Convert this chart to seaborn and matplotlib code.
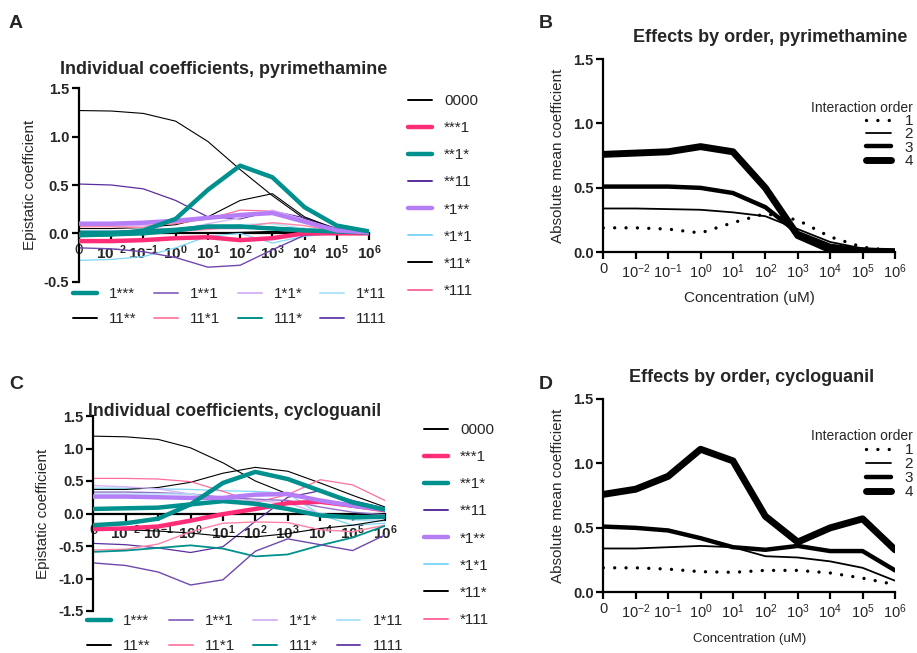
import numpy as np
import pandas as pd
import matplotlib
matplotlib.use("Agg")
import matplotlib.pyplot as plt
import seaborn as sns
from matplotlib.lines import Line2D

sns.set_theme(style="ticks")
plt.rcParams["font.family"] = ["Liberation Sans", "DejaVu Sans"]
plt.rcParams["mathtext.fontset"] = "custom"
plt.rcParams["mathtext.rm"] = "Liberation Sans"
plt.rcParams["mathtext.bf"] = "Liberation Sans:bold"
plt.rcParams["axes.unicode_minus"] = False

# ---------------- data ----------------
concentrations = ["0", "-2", "-1", "0", "1", "2", "3", "4", "5", "6"]  # exponents (first is plain 0)

coef_names = ["0000", "***1", "**1*", "**11", "*1**", "*1*1", "*11*", "*111",
              "1***", "1**1", "1*1*", "1*11", "11**", "11*1", "111*", "1111"]

pyr_0000 = [1.27, 1.265, 1.24, 1.16, 0.95, 0.66, 0.39, 0.15, 0.04, 0.01]
pyr_xxx1 = [-0.08, -0.08, -0.07, -0.05, -0.04, -0.07, -0.05, 0.0, 0.0, 0.0]
pyr_xx1x = [-0.01, -0.01, 0.0, 0.03, 0.07, 0.07, 0.05, 0.03, 0.02, 0.01]
pyr_xx11 = [0.51, 0.50, 0.46, 0.34, 0.17, 0.15, 0.23, 0.16, 0.05, 0.01]
pyr_x1xx = [0.10, 0.10, 0.11, 0.13, 0.16, 0.19, 0.21, 0.12, 0.03, 0.01]
pyr_x1x1 = [-0.28, -0.27, -0.24, -0.15, -0.03, 0.0, -0.10, -0.03, 0.0, 0.0]
pyr_x11x = [0.05, 0.05, 0.06, 0.09, 0.17, 0.34, 0.41, 0.17, 0.04, 0.01]
pyr_x111 = [0.08, 0.08, 0.08, 0.10, 0.15, 0.24, 0.23, 0.14, 0.04, 0.01]
pyr_1xxx = [-0.02, -0.01, 0.03, 0.15, 0.45, 0.70, 0.58, 0.27, 0.08, 0.02]
pyr_1xx1 = [0.02, 0.02, 0.03, 0.02, 0.05, 0.05, 0.06, 0.05, 0.02, 0.0]
pyr_1x1x = [0.07, 0.08, 0.08, 0.03, 0.10, 0.16, 0.24, 0.14, 0.03, 0.01]
pyr_1x11 = [0.0, 0.0, 0.02, 0.05, 0.06, 0.09, 0.10, 0.05, 0.02, 0.0]
pyr_11xx = [0.0, 0.0, 0.01, 0.01, 0.0, 0.01, 0.02, 0.01, 0.0, 0.0]
pyr_11x1 = [0.07, 0.07, 0.06, 0.02, 0.04, 0.07, 0.11, 0.08, 0.02, 0.0]
pyr_111x = [0.02, 0.02, 0.03, 0.05, 0.08, 0.08, 0.06, 0.04, 0.02, 0.01]
pyr_1111 = [-0.15, -0.16, -0.19, -0.25, -0.35, -0.33, -0.17, -0.02, 0.0, 0.0]

cyc_0000 = [1.19, 1.18, 1.14, 1.01, 0.78, 0.50, 0.30, 0.18, 0.10, 0.05]
cyc_xxx1 = [-0.24, -0.23, -0.20, -0.11, -0.01, 0.07, 0.16, 0.18, 0.12, 0.05]
cyc_xx1x = [0.07, 0.08, 0.09, 0.14, 0.19, 0.15, 0.07, -0.03, -0.06, -0.05]
cyc_xx11 = [-0.46, -0.48, -0.53, -0.60, -0.51, -0.12, 0.25, 0.35, 0.20, 0.08]
cyc_x1xx = [0.26, 0.26, 0.25, 0.24, 0.24, 0.29, 0.30, 0.20, 0.12, 0.06]
cyc_x1x1 = [0.39, 0.39, 0.38, 0.37, 0.35, 0.34, 0.31, -0.02, -0.18, -0.15]
cyc_x11x = [0.37, 0.37, 0.40, 0.48, 0.62, 0.71, 0.65, 0.47, 0.28, 0.10]
cyc_x111 = [0.54, 0.54, 0.53, 0.49, 0.34, 0.17, 0.29, 0.52, 0.44, 0.20]
cyc_1xxx = [-0.18, -0.15, -0.08, 0.14, 0.47, 0.64, 0.53, 0.35, 0.17, 0.06]
cyc_1xx1 = [0.33, 0.33, 0.32, 0.30, 0.25, 0.22, 0.20, 0.10, 0.02, -0.02]
cyc_1x1x = [0.43, 0.41, 0.38, 0.30, 0.22, 0.20, 0.16, 0.0, -0.07, -0.08]
cyc_1x11 = [0.30, 0.30, 0.30, 0.30, 0.20, 0.12, 0.05, 0.0, -0.10, -0.12]
cyc_11xx = [-0.25, -0.25, -0.27, -0.30, -0.35, -0.36, -0.31, -0.23, -0.18, -0.10]
cyc_11x1 = [-0.56, -0.55, -0.47, -0.28, -0.15, -0.13, -0.14, -0.25, -0.28, -0.18]
cyc_111x = [-0.59, -0.57, -0.53, -0.49, -0.54, -0.66, -0.63, -0.49, -0.37, -0.19]
cyc_1111 = [-0.76, -0.80, -0.90, -1.10, -1.02, -0.58, -0.39, -0.48, -0.57, -0.33]

pyr_order1 = [0.19, 0.19, 0.18, 0.15, 0.23, 0.30, 0.25, 0.12, 0.04, 0.01]
pyr_order2 = [0.34, 0.34, 0.335, 0.33, 0.31, 0.28, 0.18, 0.08, 0.03, 0.01]
pyr_order3 = [0.51, 0.51, 0.51, 0.50, 0.46, 0.35, 0.15, 0.05, 0.02, 0.01]
pyr_order4 = [0.76, 0.77, 0.78, 0.82, 0.78, 0.50, 0.13, 0.02, 0.01, 0.005]

cyc_order1 = [0.19, 0.19, 0.18, 0.16, 0.155, 0.17, 0.17, 0.15, 0.11, 0.06]
cyc_order2 = [0.34, 0.34, 0.35, 0.36, 0.35, 0.28, 0.27, 0.24, 0.19, 0.09]
cyc_order3 = [0.51, 0.50, 0.48, 0.42, 0.35, 0.33, 0.36, 0.32, 0.32, 0.17]
cyc_order4 = [0.76, 0.80, 0.90, 1.11, 1.02, 0.59, 0.39, 0.50, 0.57, 0.33]

order_labels = ["1", "2", "3", "4"]

pyr_coefs = [pyr_0000, pyr_xxx1, pyr_xx1x, pyr_xx11, pyr_x1xx, pyr_x1x1, pyr_x11x, pyr_x111,
             pyr_1xxx, pyr_1xx1, pyr_1x1x, pyr_1x11, pyr_11xx, pyr_11x1, pyr_111x, pyr_1111]
cyc_coefs = [cyc_0000, cyc_xxx1, cyc_xx1x, cyc_xx11, cyc_x1xx, cyc_x1x1, cyc_x11x, cyc_x111,
             cyc_1xxx, cyc_1xx1, cyc_1x1x, cyc_1x11, cyc_11xx, cyc_11x1, cyc_111x, cyc_1111]

# ---------------- styles ----------------
TEAL = "#00908D"
PINK = "#FF2D78"
styles = {
    "0000": ("black", 0.8), "***1": (PINK, 3.2), "**1*": (TEAL, 3.2), "**11": ("#5A2D9C", 0.9),
    "*1**": ("#B57EF7", 3.2), "*1*1": ("#7FD6F7", 0.9), "*11*": ("black", 0.8), "*111": ("#FF6E9A", 0.9),
    "1***": (TEAL, 3.2), "1**1": ("#9272C8", 1.0), "1*1*": ("#D6B6F8", 1.0), "1*11": ("#AEE4F8", 1.0),
    "11**": ("black", 0.8), "11*1": ("#FF84A8", 1.0), "111*": (TEAL, 1.3), "1111": ("#6E48AE", 1.0),
}

x = np.arange(len(concentrations))


def tick_labels(bold):
    out = []
    for i, e in enumerate(concentrations):
        if i == 0:
            out.append("0")
        elif bold:
            out.append(r"$\mathbf{10^{%s}}$" % e)
        else:
            out.append(r"$\mathregular{10^{%s}}$" % e)
    return out


W, H = 917, 653
fig = plt.figure(figsize=(W / 100, H / 100), dpi=100)


def rect(l, r, t, b):
    return [l / W, 1 - b / H, (r - l) / W, (b - t) / H]


def coef_panel(axrect, series, ylim, yticks, ylabel_x):
    ax = fig.add_axes(axrect)
    for name, vals in zip(coef_names, series):
        c, lw = styles[name]
        df = pd.DataFrame({"x": x, "y": vals})
        sns.lineplot(data=df, x="x", y="y", ax=ax, color=c, linewidth=lw,
                     legend=False, zorder=3 if lw > 2 else 2)
    ax.set_xlim(0, 9)
    ax.set_ylim(*ylim)
    ax.set_yticks(yticks)
    ax.set_yticklabels(["%.1f" % v for v in yticks], fontweight="bold", fontsize=10.5)
    ax.set_xticks(x)
    ax.set_xticklabels(tick_labels(True), fontweight="bold", fontsize=10.5)
    ax.spines["bottom"].set_position(("data", 0))
    ax.spines["bottom"].set_zorder(1)
    for s in ["top", "right"]:
        ax.spines[s].set_visible(False)
    for s in ["left", "bottom"]:
        ax.spines[s].set_linewidth(1.6)
        ax.spines[s].set_color("black")
    ax.tick_params(axis="both", width=1.6, length=5, color="black", pad=2)
    ax.set_xlabel("")
    ax.set_ylabel("Epistatic coefficient", fontsize=11)
    ax.yaxis.set_label_coords(ylabel_x, 0.5)
    return ax


def make_handles(names):
    hs = []
    for n in names:
        c, lw = styles[n]
        hs.append(Line2D([0], [0], color=c, lw=max(lw, 1.4) if lw < 2 else lw))
    return hs


# legend grid is filled row by row (4 columns, 2 rows)
lower_names = coef_names[8:]
lower_order = [0, 4, 1, 5, 2, 6, 3, 7]
lower_names_cm = [lower_names[i] for i in lower_order]

# Panel A
axA = coef_panel(rect(79, 369, 88.3, 281.7), pyr_coefs, (-0.5, 1.5),
                 [-0.5, 0.0, 0.5, 1.0, 1.5], -0.145)
fig.legend(make_handles(coef_names[:8]), coef_names[:8], loc="upper left",
           bbox_to_anchor=(408 / W, 1 - 94 / H), frameon=False, fontsize=11,
           handlelength=1.55, handletextpad=0.8, labelspacing=0.86,
           borderpad=0, borderaxespad=0)
fig.legend(make_handles(lower_names_cm), lower_names_cm, loc="upper left",
           bbox_to_anchor=(73 / W, 1 - 287 / H), frameon=False, fontsize=11, ncol=4,
           handlelength=1.55, handletextpad=0.8, labelspacing=0.72, columnspacing=1.15,
           borderpad=0, borderaxespad=0)

# Panel C
axC = coef_panel(rect(93.3, 385, 416, 611), cyc_coefs, (-1.5, 1.5),
                 [-1.5, -1.0, -0.5, 0.0, 0.5, 1.0, 1.5], -0.148)
fig.legend(make_handles(coef_names[:8]), coef_names[:8], loc="upper left",
           bbox_to_anchor=(424 / W, 1 - 423 / H), frameon=False, fontsize=11,
           handlelength=1.55, handletextpad=0.8, labelspacing=0.86,
           borderpad=0, borderaxespad=0)
fig.legend(make_handles(lower_names_cm), lower_names_cm, loc="upper left",
           bbox_to_anchor=(87 / W, 1 - 614 / H), frameon=False, fontsize=11, ncol=4,
           handlelength=1.55, handletextpad=0.8, labelspacing=0.72, columnspacing=1.2,
           borderpad=0, borderaxespad=0)

# Order panels
order_styles = [
    dict(linestyle=(0, (0.01, 3.4)), linewidth=2.4, dash_capstyle="round"),
    dict(linestyle="-", linewidth=1.3),
    dict(linestyle="-", linewidth=3.2),
    dict(linestyle="-", linewidth=5.0),
]


def order_panel(axrect, orders, xlabel_size, leg_anchor, leg_spacing):
    ax = fig.add_axes(axrect)
    for vals, st in zip(orders, order_styles):
        df = pd.DataFrame({"x": x, "y": vals})
        sns.lineplot(data=df, x="x", y="y", ax=ax, color="black", legend=False, **st)
    ax.set_xlim(0, 9)
    ax.set_ylim(0, 1.5)
    ax.set_yticks([0, 0.5, 1.0, 1.5])
    ax.set_yticklabels(["0.0", "0.5", "1.0", "1.5"], fontweight="bold", fontsize=10.5)
    ax.set_xticks(x)
    ax.set_xticklabels(tick_labels(False), fontsize=10.5)
    for s in ["top", "right"]:
        ax.spines[s].set_visible(False)
    for s in ["left", "bottom"]:
        ax.spines[s].set_linewidth(1.6)
        ax.spines[s].set_color("black")
    ax.tick_params(axis="both", width=1.6, length=5, color="black", pad=2)
    ax.set_ylabel("Absolute mean coefficient", fontsize=11)
    ax.yaxis.set_label_coords(-0.13, 0.5)
    ax.set_xlabel("Concentration (uM)", fontsize=xlabel_size)
    handles = [Line2D([0], [0], color="black", **st) for st in order_styles]
    leg = ax.legend(handles, order_labels, title="Interaction order", loc="upper left",
                    bbox_to_anchor=leg_anchor, bbox_transform=fig.transFigure,
                    frameon=False, fontsize=11, title_fontsize=10,
                    handlelength=1.6, handletextpad=0.9, labelspacing=leg_spacing,
                    borderpad=0, borderaxespad=0)
    leg._legend_box.align = "right"
    return ax


axB = order_panel(rect(603.3, 895, 59, 252.3),
                  [pyr_order1, pyr_order2, pyr_order3, pyr_order4], 11,
                  (811 / W, 1 - 101 / H), -0.05)
axB.xaxis.set_label_coords(0.5, -0.2)
axD = order_panel(rect(603.3, 895, 399, 592.3),
                  [cyc_order1, cyc_order2, cyc_order3, cyc_order4], 9.5,
                  (811 / W, 1 - 429 / H), 0.0)
axD.xaxis.set_label_coords(0.5, -0.21)

# Titles and panel letters
fig.text(224 / W, 1 - 69 / H, "Individual coefficients, pyrimethamine", ha="center", va="center",
         fontsize=13, fontweight="bold")
fig.text(770 / W, 1 - 38 / H, "Effects by order, pyrimethamine", ha="center", va="center",
         fontsize=13, fontweight="bold")
fig.text(235 / W, 1 - 411 / H, "Individual coefficients, cycloguanil", ha="center", va="center",
         fontsize=12.7, fontweight="bold")
fig.text(752 / W, 1 - 378 / H, "Effects by order, cycloguanil", ha="center", va="center",
         fontsize=13, fontweight="bold")
for letter, (lx, ly) in {"A": (16, 24), "B": (546, 24), "C": (16, 385), "D": (546, 385)}.items():
    fig.text(lx / W, 1 - ly / H, letter, ha="center", va="center", fontsize=14, fontweight="bold")

fig.savefig("out.png", dpi=100)
